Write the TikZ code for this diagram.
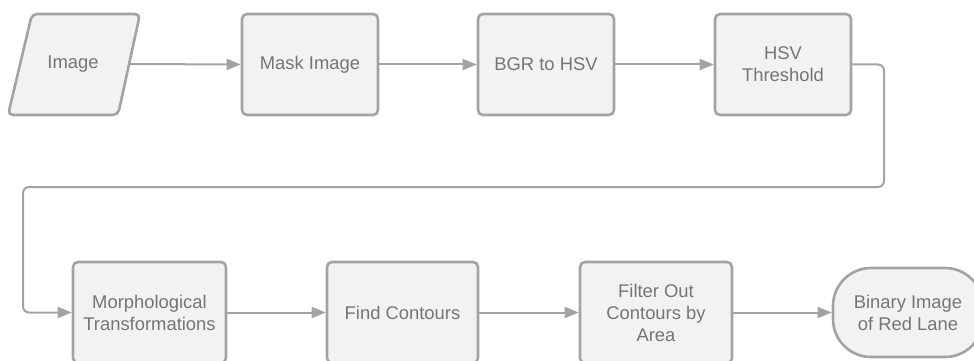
\documentclass[tikz,border=0pt]{standalone}
\usepackage{fontspec}
\setmainfont{Liberation Sans}
\usetikzlibrary{arrows.meta}
\definecolor{linegray}{HTML}{A3A3A3}
\definecolor{boxfill}{HTML}{F2F2F2}
\definecolor{textgray}{HTML}{757575}
\tikzset{
  x=1pt, y=-1pt,
  lbl/.style={text=textgray, font=\fontsize{18.4}{22}\selectfont, align=center},
  procbox/.style={lbl, draw=linegray, line width=2.6pt, fill=boxfill, rounded corners=5pt,
    minimum height=101pt, inner sep=0pt},
  termbox/.style={lbl, draw=linegray, line width=2.6pt, fill=boxfill, rounded corners=38pt,
    minimum height=89pt, minimum width=150pt, inner sep=0pt},
  conn/.style={draw=linegray, line width=2pt, rounded corners=6pt,
    -{Triangle[length=14pt,width=11pt]}},
}
\begin{document}
\begin{tikzpicture}
\useasboundingbox (0,0) rectangle (974,361);
\clip (0,0) rectangle (974,361);
% input parallelogram
\draw[draw=linegray, line width=2.6pt, fill=boxfill, rounded corners=5pt]
  (32,14) -- (140,14) -- (118,115) -- (8,115) -- cycle;
\node[lbl] (img) at (73,64) {Image};
\coordinate (imgR) at (129,64);
% top row
\node[procbox, minimum width=136pt] (mask) at (310,64.5) {Mask Image};
\node[procbox, minimum width=136pt] (bgr) at (546,64.5) {BGR to HSV};
\node[procbox, minimum width=136pt] (hsv) at (783,64.5) {HSV\\Threshold};
% bottom row
\node[procbox, minimum width=153pt] (morph) at (149.5,312.5) {Morphological\\Transformations};
\node[procbox, minimum width=151pt] (find) at (402.5,312.5) {Find Contours};
\node[procbox, minimum width=152pt] (filt) at (656,312.5) {Filter Out\\Contours by\\Area};
\node[termbox] (bin) at (908,312.5) {Binary Image\\of Red Lane};
% connectors
\coordinate (c1) at (884,187);
\coordinate (c2) at (23,187);
\draw[conn] (imgR) -- (mask.west);
\draw[conn] (mask.east) -- (bgr.west);
\draw[conn] (bgr.east) -- (hsv.west);
\draw[conn] (hsv.east) -| (c1) -- (c2) |- (morph.west);
\draw[conn] (morph.east) -- (find.west);
\draw[conn] (find.east) -- (filt.west);
\draw[conn] (filt.east) -- (bin.west);
\end{tikzpicture}
\end{document}
